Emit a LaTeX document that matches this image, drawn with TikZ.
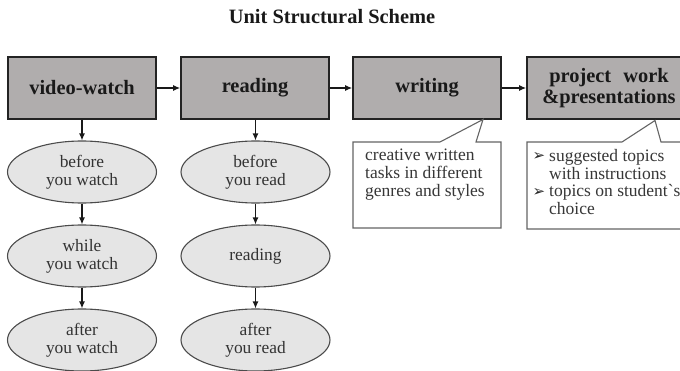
\documentclass[tikz,border=0pt]{standalone}
\usepackage{fontspec}
\setmainfont{Liberation Serif}
\newfontfamily\symfont{DejaVu Sans}
\usetikzlibrary{arrows.meta,shapes.geometric,calc}

\definecolor{stagefill}{RGB}{176,173,173}
\definecolor{stageline}{RGB}{35,35,35}
\definecolor{stepfill}{RGB}{229,229,229}
\definecolor{stepline}{RGB}{75,75,75}
\definecolor{noteline}{RGB}{100,100,100}
\definecolor{notetext}{RGB}{55,55,55}

\tikzset{
  stagebox/.style={draw=stageline, line width=1.6pt, fill=stagefill,
    minimum width=148pt, minimum height=62pt, inner sep=0pt, align=center,
    font=\fontsize{20.4}{21}\selectfont\bfseries, text=black!90},
  stepoval/.style={ellipse, draw=stepline, line width=1.1pt, fill=stepfill,
    minimum width=149pt, minimum height=62pt, inner sep=0pt, align=center,
    font=\fontsize{17.4}{18}\selectfont, text=black!80},
  link/.style={line width=1.2pt, draw=black!90,
    -{Latex[length=7pt,width=6pt]}},
  noteframe/.style={draw=noteline, line width=1.1pt, fill=white},
  notetxt/.style={font=\fontsize{17.5}{17.8}\selectfont, text=notetext,
    inner sep=0pt, align=left},
  bulletmark/.style={font=\symfont\fontsize{15}{15}\selectfont, text=black!85, inner sep=0pt},
}

\begin{document}
\begin{tikzpicture}[x=1pt,y=-1pt]
  \useasboundingbox (0,0) rectangle (680,371);
  \clip (0,0) rectangle (680,371);

  % title
  \node[font=\fontsize{20.4}{22}\selectfont\bfseries, text=black!90] (title) at (332,17) {Unit Structural Scheme};

  % main stages
  \node[stagebox] (video) at (82,88) {video-watch};
  \node[stagebox] (read)  at (255,88) {reading};
  \node[stagebox] (write) at (427,88) {writing};
  \node[stagebox, minimum width=164pt] (proj) at (609,88) {project\hspace{7pt} work\\[0pt]\&presentations};

  \draw[link] (video) -- (read);
  \draw[link] (read) -- (write);
  \draw[link] (write) -- (proj);

  % video-watch steps
  \node[stepoval] (v1) at (82,172) {before\\you watch};
  \node[stepoval] (v2) at (82,256) {while\\you watch};
  \node[stepoval] (v3) at (82,340) {after\\you watch};
  \draw[link] (video) -- (v1);
  \draw[link] (v1) -- (v2);
  \draw[link] (v2) -- (v3);

  % reading steps
  \node[stepoval] (r1) at (255.5,172) {before\\you read};
  \node[stepoval] (r2) at (255.5,256) {reading};
  \node[stepoval] (r3) at (255.5,340) {after\\you read};
  \draw[link] (read.south -| r1) -- (r1);
  \draw[link] (r1) -- (r2);
  \draw[link] (r2) -- (r3);

  % writing note
  \coordinate (wtip) at (483,119.5);
  \draw[noteframe, line join=miter] (353,142) -- (440,142) -- (wtip) -- (476,142)
     -- (501,142) -- (501,228) -- (353,228) -- cycle;
  \node[notetxt, anchor=north west] (wnote) at (365,149)
     {creative written\\tasks in different\\genres and styles};

  % project note
  \coordinate (ptip) at (655,120.5);
  \draw[noteframe, line join=miter] (527,142) -- (622,142) -- (ptip) -- (661,142)
     -- (700,142) -- (700,229) -- (527,229) -- cycle;
  \node[notetxt, anchor=north west] (pnote) at (549,149)
     {suggested topics\\with instructions\\topics on student\textasciigrave s\\choice};
  \node[bulletmark] (b1) at (539,157) {➢};
  \node[bulletmark] (b2) at (539,193) {➢};
\end{tikzpicture}
\end{document}
